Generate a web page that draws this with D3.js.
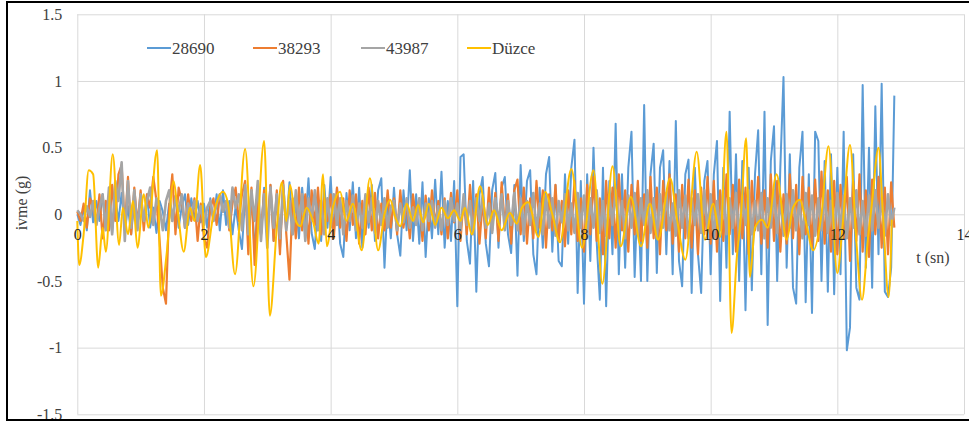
<!DOCTYPE html>
<html>
<head>
<meta charset="utf-8">
<script src="https://cdn.jsdelivr.net/npm/d3@7"></script>
<style>
  body { margin: 0; background: #fff; }
  svg text { font-family: "Liberation Serif", "Times New Roman", serif; fill: #404040; }
</style>
</head>
<body>
<div id="svg_div"><svg width="969" height="423"></svg></div>
<script>
// Sampling step of the three recorded series (s)
var dt = 0.05;

// 28690 - ivme (g), one value every 0.05 s from 0 to 12.9 s
var s28690 = [
  0.00, -0.08, 0.05, -0.12, 0.18, -0.06, 0.10, -0.05, 0.15, -0.10, 0.08, -0.14, 0.12, -0.05, 0.16, -0.12, 0.06, -0.15, 0.10, -0.08,
  0.12, -0.06, 0.15, -0.10, 0.05, -0.14, 0.10, 0.02, -0.12, 0.08, -0.05, 0.14, -0.10, 0.06, 0.15, -0.08, 0.12, -0.04, 0.10, -0.06,
  0.08, -0.10, 0.12, -0.05, 0.15, -0.12, 0.18, -0.08, 0.10, -0.15, 0.06, -0.12, -0.26, 0.14, -0.08, 0.18, -0.29, 0.10, -0.16, 0.20,
  -0.12, 0.22, -0.20, 0.15, -0.26, 0.18, -0.10, 0.24, -0.15, 0.10, -0.18, 0.20, -0.08, 0.27, -0.14, -0.26, 0.12, -0.20, 0.22, -0.10,
  0.28, -0.15, 0.20, -0.22, -0.32, 0.16, -0.12, 0.24, -0.18, 0.20, -0.25, 0.14, -0.10, 0.22, -0.20, 0.18, 0.27, -0.40, 0.12, -0.18,
  0.20, -0.15, -0.31, 0.18, -0.12, 0.33, -0.20, 0.15, -0.22, 0.24, -0.32, 0.12, -0.18, 0.26, -0.15, 0.32, -0.25, 0.10, -0.20, 0.25,
  -0.69, 0.43, 0.45, -0.20, -0.37, 0.25, -0.58, 0.15, 0.28, -0.22, -0.39, 0.18, 0.31, -0.25, 0.20, 0.28, -0.15, -0.29, 0.22, -0.46,
  0.37, -0.20, 0.25, 0.33, -0.30, -0.45, 0.20, -0.25, 0.30, 0.43, -0.28, 0.22, -0.35, -0.39, 0.30, -0.22, 0.35, 0.56, -0.59, 0.25,
  -0.67, 0.30, -0.35, 0.50, -0.20, -0.64, 0.35, -0.69, 0.25, -0.30, 0.68, -0.45, 0.30, -0.40, 0.35, 0.62, -0.47, 0.20, -0.50, 0.82,
  -0.50, 0.30, 0.53, -0.44, 0.35, 0.48, -0.30, 0.40, -0.45, 0.70, -0.35, -0.54, 0.30, 0.41, -0.59, 0.35, -0.30, -0.59, 0.25, 0.40,
  -0.45, 0.30, 0.55, -0.65, 0.35, -0.40, 0.77, -0.30, 0.45, -0.50, 0.40, -0.72, 0.35, -0.57, 0.30, 0.63, -0.45, 0.77, -0.83, 0.40,
  0.66, -0.50, 0.35, 1.03, -0.40, 0.45, -0.55, -0.67, 0.35, 0.62, -0.66, 0.30, -0.74, 0.62, 0.55, -0.50, 0.40, -0.58, 0.45, -0.60,
  0.35, -0.45, 0.62, -1.02, -0.85, 0.45, -0.55, -0.64, 0.97, -0.40, 0.50, -0.55, 0.81, -0.30, 0.98, -0.58, -0.62, -0.40, 0.89
];

// 38293
var s38293 = [
  0.02, -0.05, 0.08, -0.10, 0.12, 0.05, -0.08, 0.15, -0.18, 0.10, -0.12, 0.22, -0.05, 0.30, 0.37, -0.10, 0.28, -0.15, 0.20, -0.08,
  0.18, -0.12, 0.15, 0.05, 0.28, 0.10, -0.20, -0.55, -0.67, 0.05, 0.30, -0.15, 0.20, 0.10, -0.10, 0.15, -0.05, 0.12, -0.20, 0.08,
  -0.18, -0.25, 0.05, 0.12, -0.08, 0.15, 0.02, 0.10, -0.12, 0.08, 0.20, -0.05, 0.15, 0.25, -0.30, 0.20, -0.38, 0.10, -0.15, 0.18,
  -0.10, 0.22, -0.20, 0.18, -0.30, 0.25, -0.15, -0.49, 0.12, -0.18, 0.20, -0.12, 0.15, -0.22, 0.18, -0.08, 0.20, -0.15, 0.12, -0.05,
  0.15, -0.18, 0.20, -0.10, 0.12, -0.20, 0.18, -0.08, 0.15, -0.22, 0.10, -0.15, 0.20, -0.12, 0.16, -0.18, 0.08, -0.12, 0.18, -0.10,
  0.12, -0.15, 0.18, -0.10, 0.08, -0.18, 0.15, -0.05, 0.12, -0.20, 0.14, -0.12, 0.18, -0.08, 0.10, -0.15, 0.12, -0.18, 0.16, -0.06,
  0.18, -0.20, 0.12, -0.15, 0.22, -0.10, 0.15, -0.22, 0.10, -0.18, 0.20, -0.12, 0.16, -0.20, 0.24, -0.08, 0.15, -0.22, 0.18, 0.26,
  -0.15, 0.20, -0.22, 0.12, -0.18, 0.25, -0.10, 0.18, -0.25, 0.15, -0.12, 0.22, -0.20, 0.10, -0.24, 0.18, -0.15, 0.25, -0.20, 0.12,
  -0.28, 0.22, -0.15, 0.28, -0.20, 0.12, -0.30, 0.25, -0.18, 0.20, -0.25, 0.30, -0.12, 0.18, -0.28, 0.22, -0.15, 0.25, -0.20, 0.15,
  -0.25, 0.28, -0.18, 0.20, -0.30, 0.25, -0.12, 0.30, -0.22, 0.15, -0.28, 0.22, -0.18, 0.26, -0.25, 0.18, -0.30, 0.20, -0.15, 0.28,
  -0.22, 0.25, -0.28, 0.18, -0.20, 0.30, -0.15, 0.22, -0.28, 0.26, -0.18, 0.20, -0.30, 0.25, -0.12, 0.28, -0.22, 0.18, -0.25, 0.30,
  -0.20, 0.25, -0.28, 0.15, -0.22, 0.30, -0.18, 0.22, -0.30, 0.28, -0.15, 0.20, -0.25, 0.26, -0.20, 0.32, -0.22, 0.18, -0.28, 0.25,
  -0.30, 0.22, -0.18, 0.28, -0.35, 0.25, -0.20, 0.30, -0.28, 0.18, -0.32, 0.26, -0.15, 0.28, -0.25, 0.20, -0.30, 0.24, -0.10
];

// 43987
var s43987 = [
  0.03, 0.00, -0.05, 0.06, -0.02, 0.10, -0.08, 0.05, 0.15, -0.12, 0.20, -0.15, 0.25, 0.10, 0.39, -0.20, 0.25, -0.10, 0.18, -0.12,
  0.15, -0.05, 0.10, 0.20, -0.08, 0.12, 0.05, -0.12, 0.10, 0.18, -0.05, 0.12, 0.02, 0.15, -0.10, 0.08, 0.00, 0.10, -0.05, 0.06,
  -0.08, 0.05, 0.10, -0.05, 0.08, 0.15, 0.02, 0.10, -0.10, 0.20, 0.05, 0.15, -0.12, 0.22, -0.15, 0.18, -0.05, 0.25, -0.20, 0.15,
  -0.25, 0.20, -0.10, 0.15, -0.18, 0.22, -0.12, 0.10, -0.15, 0.18, -0.08, 0.15, -0.20, 0.12, -0.05, 0.18, -0.12, 0.10, -0.15, 0.12,
  -0.10, 0.15, -0.08, 0.12, -0.15, 0.10, -0.05, 0.14, -0.12, 0.08, -0.10, 0.15, -0.06, 0.12, -0.14, 0.10, -0.08, 0.12, -0.10, 0.06,
  0.10, -0.12, 0.08, -0.06, 0.12, -0.10, 0.05, -0.08, 0.12, -0.12, 0.08, -0.05, 0.10, -0.10, 0.06, -0.12, 0.10, -0.08, 0.12, -0.05,
  0.08, -0.12, 0.15, -0.08, 0.10, -0.15, 0.12, -0.05, 0.14, -0.10, 0.08, -0.14, 0.12, -0.06, 0.15, -0.12, 0.10, -0.08, 0.16, -0.12,
  0.12, -0.15, 0.10, -0.08, 0.16, -0.12, 0.08, -0.15, 0.14, -0.10, 0.12, -0.16, 0.10, -0.06, 0.15, -0.12, 0.08, -0.14, 0.16, -0.10,
  0.14, -0.18, 0.12, -0.10, 0.18, -0.14, 0.10, -0.16, 0.15, -0.08, 0.18, -0.12, 0.10, -0.18, 0.14, -0.10, 0.16, -0.15, 0.12, -0.08,
  0.18, -0.14, 0.12, -0.18, 0.15, -0.10, 0.16, -0.12, 0.08, -0.16, 0.18, -0.10, 0.14, -0.18, 0.12, -0.08, 0.15, -0.14, 0.18, -0.12,
  0.15, -0.18, 0.10, -0.12, 0.18, -0.15, 0.12, -0.10, 0.16, -0.18, 0.14, -0.08, 0.18, -0.15, 0.10, -0.12, 0.16, -0.18, 0.12, -0.10,
  0.18, -0.14, 0.12, -0.16, 0.15, -0.10, 0.18, -0.12, 0.10, -0.18, 0.16, -0.08, 0.14, -0.16, 0.12, -0.12, 0.18, -0.14, 0.10, -0.15,
  0.16, -0.12, 0.14, -0.18, 0.12, -0.10, 0.18, -0.15, 0.10, -0.16, 0.14, -0.12, 0.18, -0.10, 0.12, -0.16, 0.15, -0.08, 0.05
];

// Düzce - smoother record, read as [t (s), ivme (g)] turning points
var duzce = [
  [0.00,-0.05],[0.03,-0.38],[0.10,-0.15],[0.18,0.33],[0.25,0.30],[0.33,-0.40],[0.40,-0.10],[0.45,-0.28],
  [0.56,0.45],[0.66,-0.23],[0.72,0.05],[0.80,-0.15],[0.88,0.10],[0.95,-0.25],[1.05,0.15],[1.12,-0.10],
  [1.26,0.48],[1.32,-0.61],[1.41,-0.30],[1.52,0.25],[1.58,0.05],[1.68,-0.28],[1.78,0.05],[1.85,-0.05],
  [1.94,0.37],[2.03,-0.32],[2.15,0.00],[2.30,0.17],[2.38,0.08],[2.49,-0.45],[2.65,0.49],[2.78,-0.54],
  [2.95,0.55],[3.04,-0.76],[3.15,-0.10],[3.23,0.24],[3.30,-0.05],[3.36,0.22],[3.45,-0.05],[3.52,-0.09],
  [3.62,0.05],[3.72,-0.05],[3.81,-0.22],[3.88,0.30],[3.94,-0.24],[4.04,0.06],[4.15,0.17],[4.25,-0.05],
  [4.35,0.08],[4.49,-0.27],[4.62,0.27],[4.75,-0.27],[4.85,0.00],[4.94,0.11],[5.02,-0.02],[5.10,-0.09],
  [5.20,0.08],[5.30,-0.05],[5.38,0.07],[5.46,-0.06],[5.55,0.08],[5.65,-0.08],[5.75,0.05],[5.85,-0.03],
  [5.95,0.03],[6.05,-0.05],[6.12,0.05],[6.23,-0.15],[6.36,0.21],[6.48,-0.08],[6.58,0.03],[6.70,-0.12],
  [6.83,0.01],[6.94,-0.07],[7.02,0.05],[7.12,0.09],[7.28,-0.17],[7.39,0.17],[7.50,0.00],[7.62,-0.21],
  [7.80,0.34],[7.97,-0.25],[8.15,0.33],[8.29,-0.52],[8.45,0.36],[8.58,-0.24],[8.74,0.13],[8.90,-0.24],
  [9.04,0.08],[9.17,-0.19],[9.36,0.27],[9.47,-0.04],[9.60,-0.34],[9.78,0.47],[9.91,-0.19],[10.04,0.08],
  [10.15,-0.17],[10.25,0.62],[10.33,-0.89],[10.41,-0.34],[10.48,0.00],[10.56,0.57],[10.62,-0.47],[10.70,-0.10],
  [10.81,-0.04],[10.90,-0.10],[11.04,0.30],[11.20,-0.19],[11.30,0.05],[11.41,0.11],[11.50,-0.05],[11.62,-0.27],
  [11.75,0.00],[11.86,0.51],[12.00,-0.44],[12.08,-0.10],[12.20,0.52],[12.30,-0.20],[12.39,-0.64],[12.48,-0.20],
  [12.55,0.10],[12.65,0.50],[12.72,0.00],[12.81,-0.62],[12.86,-0.04]
];

// Axis ticks and legend
var xTicks = [0, 2, 4, 6, 8, 10, 12, 14];
var yTicks = [-1.5, -1, -0.5, 0, 0.5, 1, 1.5];
var seriesNames = ["28690", "38293", "43987", "Düzce"];
var seriesColors = ["#5B9BD5", "#ED7D31", "#A5A5A5", "#FFC000"];
var seriesWidths = [2, 2.2, 2.6, 2];

var serif = "'Liberation Serif', 'Times New Roman', serif";

var svg = d3.select("#svg_div").select("svg");
var svgWidth = +svg.attr("width");
var svgHeight = +svg.attr("height");

// Plot area
var margin = {top: 14.3, left: 77.3, bottom: 8.7, right: 5};
var width = svgWidth - margin.left - margin.right;
var height = svgHeight - margin.top - margin.bottom;

var xScale = d3.scaleLinear().domain([0, 14]).range([margin.left, margin.left + width]);
var yScale = d3.scaleLinear().domain([-1.5, 1.5]).range([margin.top + height, margin.top]);

// Grid lines
var xGrid = d3.axisBottom(xScale).tickValues(xTicks).tickSize(-height).tickFormat("");
svg.append("g")
    .attr("class", "x grid")
    .attr("transform", "translate(0," + (margin.top + height) + ")")
    .call(xGrid)
    .call(function(g) { g.select(".domain").remove(); })
    .selectAll("line").attr("stroke", "#d9d9d9").attr("stroke-width", 1);

var yAxis = d3.axisLeft(yScale).tickValues(yTicks).tickSize(-width).tickPadding(15)
    .tickFormat(function(d) { return String(d); });
var yAxisG = svg.append("g")
    .attr("class", "y axis")
    .attr("transform", "translate(" + margin.left + ",0)")
    .call(yAxis)
    .call(function(g) { g.select(".domain").remove(); });
yAxisG.selectAll("line").attr("stroke", "#d9d9d9").attr("stroke-width", 1);
yAxisG.selectAll("text")
    .style("font-family", serif)
    .style("font-size", "16px")
    .style("fill", "#404040");

// Series lines
var lineGen = d3.line()
    .x(function(d) { return xScale(d[0]); })
    .y(function(d) { return yScale(d[1]); });

var recorded = [s28690, s38293, s43987].map(function(arr) {
    return arr.map(function(v, i) { return [i * dt, v]; });
});

recorded.forEach(function(pts, k) {
    svg.append("path")
        .datum(pts)
        .attr("d", lineGen)
        .attr("fill", "none")
        .attr("stroke", seriesColors[k])
        .attr("stroke-width", seriesWidths[k])
        .attr("stroke-linejoin", "round");
});

svg.append("path")
    .datum(duzce)
    .attr("d", lineGen.curve(d3.curveMonotoneX))
    .attr("fill", "none")
    .attr("stroke", seriesColors[3])
    .attr("stroke-width", seriesWidths[3]);

// X tick labels sit on the zero line
var xAxis = d3.axisBottom(xScale).tickValues(xTicks).tickSize(0).tickPadding(14);
var xAxisG = svg.append("g")
    .attr("class", "x axis")
    .attr("transform", "translate(0," + yScale(0) + ")")
    .call(xAxis)
    .call(function(g) { g.select(".domain").remove(); });
xAxisG.selectAll("text")
    .style("font-family", serif)
    .style("font-size", "16px")
    .style("fill", "#262626");

// Axis titles
svg.append("text")
    .attr("x", 933)
    .attr("y", 263)
    .attr("text-anchor", "middle")
    .style("font-family", serif)
    .style("font-size", "16px")
    .text("t (sn)");

svg.append("text")
    .attr("transform", "translate(27,203) rotate(-90)")
    .attr("text-anchor", "middle")
    .style("font-family", serif)
    .style("font-size", "16px")
    .text("ivme (g)");

// Legend
var legendX = [147, 253, 361, 467];
var legend = svg.selectAll(".legend")
    .data(seriesNames)
    .enter()
    .append("g")
    .attr("class", "legend")
    .attr("transform", function(d, i) { return "translate(" + legendX[i] + ",48)"; });

legend.append("line")
    .attr("x1", 0).attr("x2", 24)
    .attr("stroke", function(d, i) { return seriesColors[i]; })
    .attr("stroke-width", 2);

legend.append("text")
    .attr("x", 25)
    .attr("y", 5.5)
    .style("font-family", serif)
    .style("font-size", "17px")
    .text(function(d) { return d; });

// Outer frame (right edge falls outside the picture)
svg.append("path")
    .attr("d", "M975,2 H7 V420 H975")
    .attr("fill", "none")
    .attr("stroke", "#000")
    .attr("stroke-width", 2);
</script>
</body>
</html>
